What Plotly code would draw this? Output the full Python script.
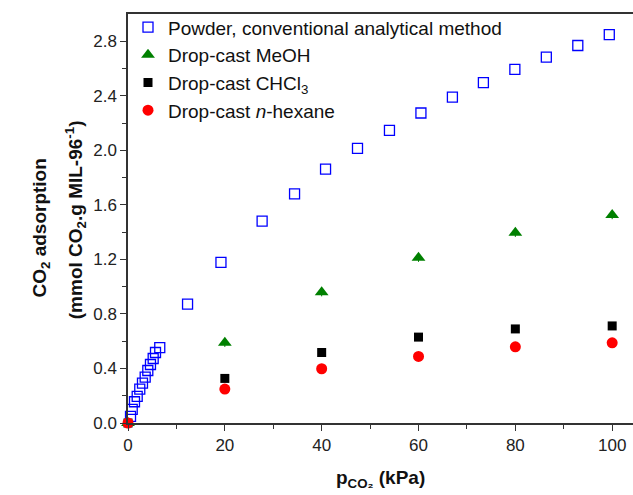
import plotly.graph_objects as go

# Powder, conventional analytical method
powder_x = [0.52, 0.87, 1.34, 1.9, 2.43, 2.99, 3.55, 4.09, 4.64, 5.2, 5.68, 6.56,
            12.3, 19.2, 27.7, 34.4, 40.8, 47.4, 54.0, 60.5, 67.0, 73.4, 79.9, 86.4, 92.9, 99.4]
powder_y = [0.048, 0.10, 0.156, 0.195, 0.249, 0.293, 0.337, 0.385, 0.429, 0.473, 0.517, 0.553,
            0.872, 1.178, 1.481, 1.681, 1.862, 2.015, 2.147, 2.274, 2.391, 2.496, 2.594, 2.684, 2.769, 2.848]

# Drop-cast series
drop_x = [0, 20, 40, 60, 80, 100]
meoh_y = [0.0, 0.588, 0.959, 1.212, 1.395, 1.525]
meoh_err = [0.0, 0.03, 0.03, 0.03, 0.03, 0.03]
chcl3_y = [0.0, 0.327, 0.517, 0.630, 0.690, 0.712]
hexane_y = [0.0, 0.249, 0.398, 0.488, 0.559, 0.588]

FONT = "Liberation Sans, Arial, sans-serif"

fig = go.Figure()
fig.add_trace(go.Scatter(
    x=powder_x, y=powder_y, mode="markers", cliponaxis=False,
    name="Powder, conventional analytical method",
    marker=dict(symbol="square-open", size=10, color="#0000ff", line=dict(width=1.3, color="#0000ff"))))
fig.add_trace(go.Scatter(
    x=drop_x, y=meoh_y, mode="markers", cliponaxis=False,
    name="Drop-cast MeOH",
    error_y=dict(type="data", array=meoh_err, color="#008000", thickness=1, width=0),
    marker=dict(symbol="triangle-up", size=12, color="#008000")))
fig.add_trace(go.Scatter(
    x=drop_x, y=chcl3_y, mode="markers", cliponaxis=False,
    name="Drop-cast CHCl<sub>3</sub>",
    marker=dict(symbol="square", size=9, color="#000000")))
fig.add_trace(go.Scatter(
    x=drop_x, y=hexane_y, mode="markers", cliponaxis=False,
    name="Drop-cast <i>n</i>-hexane",
    marker=dict(symbol="circle", size=11, color="#ff0000")))

axis_common = dict(
    showline=True, linecolor="#333333", linewidth=1.5,
    ticks="outside", tickcolor="#333333", tickwidth=1.3, ticklen=6,
    tickfont=dict(family=FONT, size=17, color="#222222"),
    showgrid=False, zeroline=False,
)

fig.update_layout(
    width=633, height=495,
    margin=dict(l=127.5, r=0, t=14, b=71.7),
    paper_bgcolor="white", plot_bgcolor="white",
    font=dict(family=FONT, color="#111111"),
    showlegend=True,
    legend=dict(x=0.0, y=1.014, xanchor="left", yanchor="top",
                bgcolor="rgba(0,0,0,0)", font=dict(family=FONT, size=19, color="#111111"),
                itemsizing="trace", tracegroupgap=0, itemwidth=30),
    xaxis=dict(range=[0, 104.3], tickmode="array", tickvals=[0, 20, 40, 60, 80, 100],
               minor=dict(tickvals=[10, 30, 50, 70, 90], ticks="outside", ticklen=4,
                          tickcolor="#333333", tickwidth=1.3),
               mirror=True, **axis_common),
    yaxis=dict(range=[0, 3.0], tickmode="array",
               tickvals=[0, 0.4, 0.8, 1.2, 1.6, 2.0, 2.4, 2.8],
               ticktext=["0.0", "0.4", "0.8", "1.2", "1.6", "2.0", "2.4", "2.8"],
               minor=dict(tickvals=[0.2, 0.6, 1.0, 1.4, 1.8, 2.2, 2.6], ticks="outside", ticklen=4,
                          tickcolor="#333333", tickwidth=1.3),
               mirror=False, **axis_common),
    annotations=[
        dict(xref="paper", yref="paper", x=0.5, y=-0.137, xanchor="center", yanchor="middle",
             text="<b>p<sub>CO₂</sub> (kPa)</b>", showarrow=False,
             font=dict(family=FONT, size=19, color="#111111")),
        dict(xref="paper", x=-0.173, yref="paper", y=0.477, xanchor="center", yanchor="middle",
             text="<b>CO<sub>2</sub> adsorption</b>",
             textangle=-90, showarrow=False,
             font=dict(family=FONT, size=19, color="#111111")),
        dict(xref="paper", x=-0.104, yref="paper", y=0.497, xanchor="center", yanchor="middle",
             text="<b>(mmol CO<sub>2</sub>.g MIL-96<sup>-1</sup>)</b>",
             textangle=-90, showarrow=False,
             font=dict(family=FONT, size=19, color="#111111")),
    ],
)

fig.write_html("out.html", config={"displayModeBar": False},
               post_script="document.body.style.margin='0';")
